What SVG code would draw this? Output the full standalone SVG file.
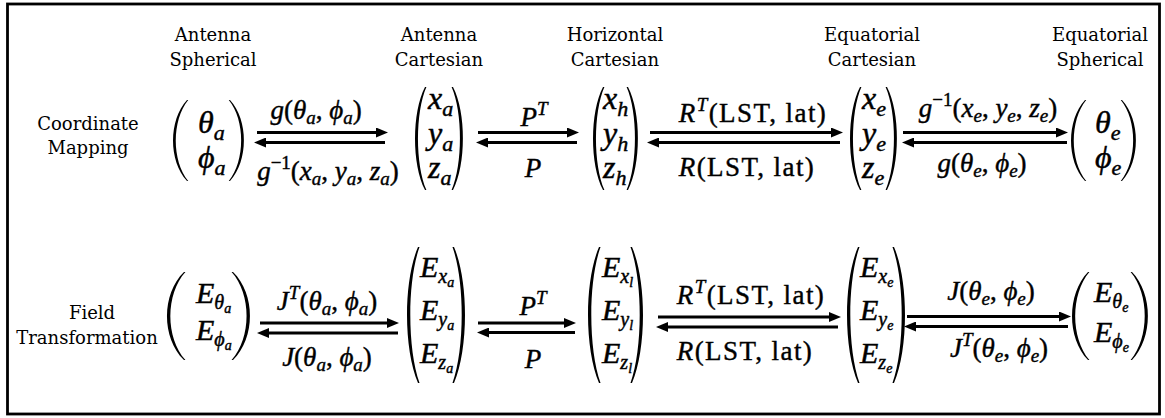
<svg xmlns="http://www.w3.org/2000/svg" width="1165" height="418" viewBox="0 0 1165 418">
<style>
.t{font-family:"DejaVu Serif",serif;font-size:18px;fill:#000;text-anchor:middle}
.m{font-family:"Liberation Serif","Times New Roman",serif;font-style:italic;font-size:32px;fill:#000;stroke:#000;stroke-width:0.45}
.me{font-family:"Liberation Serif","Times New Roman",serif;font-style:italic;font-size:30px;fill:#000;stroke:#000;stroke-width:0.45}
.l{font-family:"Liberation Serif","Times New Roman",serif;font-style:italic;font-size:27px;fill:#000;stroke:#000;stroke-width:0.4;text-anchor:middle}
.lst{letter-spacing:1.4px}
.u{font-style:normal}
.s{font-size:22px}
.s2{font-size:20px}
.ss{font-size:14px}
.ls{font-size:19px}
.arr{stroke:#000;stroke-width:2.8;fill:none}
.p{fill:#000}
</style>
<defs>
<marker id="ah" viewBox="0 0 12 10" refX="5" refY="5" markerWidth="12" markerHeight="10" markerUnits="userSpaceOnUse" orient="auto"><path d="M0,0 L12,5 L0,10 z" fill="#000"/></marker>
<path id="pn" class="p" d="M10,0 C-3.33,25 -3.33,75 10,100 L11.4,100 C0.2,75 0.2,25 11.4,0 Z"/>
<path id="pw" class="p" d="M16,0 C-5.33,25 -5.33,75 16,100 L17.4,100 C-1.5,75 -1.5,25 17.4,0 Z"/>
</defs>
<rect x="7.5" y="4" width="1152" height="410" fill="#fff" stroke="#000" stroke-width="2.8"/>

<g id="row-coordinate-mapping"><text class="t" x="88" y="130">Coordinate</text><text class="t" x="88" y="154">Mapping</text></g>
<g id="row-field-transformation"><text class="t" x="92" y="319">Field</text><text class="t" x="87" y="344">Transformation</text></g>

<g id="antenna-spherical">
<text class="t" x="213" y="41">Antenna</text><text class="t" x="213" y="66">Spherical</text>
<use href="#pw" transform="translate(173,100) scale(0.875,0.81)"/>
<use href="#pw" transform="translate(244,100) scale(-0.875,0.81)"/>
<text class="m" x="198" y="133">θ<tspan class="s" dy="7">a</tspan></text>
<text class="m" x="198" y="168">ϕ<tspan class="s" dy="7">a</tspan></text>
</g>
<g id="antenna-cartesian">
<text class="t" x="439" y="41">Antenna</text><text class="t" x="439" y="66">Cartesian</text>
<use href="#pn" transform="translate(415,87) scale(1,1.03)"/>
<use href="#pn" transform="translate(463,87) scale(-1,1.03)"/>
<text class="m" x="428" y="109">x<tspan class="s" dy="7">a</tspan></text>
<text class="m" x="428" y="144">y<tspan class="s" dy="7">a</tspan></text>
<text class="m" x="428" y="178">z<tspan class="s" dy="7">a</tspan></text>
</g>
<g id="horizontal-cartesian">
<text class="t" x="615" y="41">Horizontal</text><text class="t" x="615" y="66">Cartesian</text>
<use href="#pn" transform="translate(593,87) scale(1,1.03)"/>
<use href="#pn" transform="translate(638,87) scale(-1,1.03)"/>
<text class="m" x="603" y="109">x<tspan class="s" dy="7">h</tspan></text>
<text class="m" x="603" y="144">y<tspan class="s" dy="7">h</tspan></text>
<text class="m" x="603" y="178">z<tspan class="s" dy="7">h</tspan></text>
</g>
<g id="equatorial-cartesian">
<text class="t" x="872" y="41">Equatorial</text><text class="t" x="872" y="66">Cartesian</text>
<use href="#pn" transform="translate(850,87) scale(1,1.03)"/>
<use href="#pn" transform="translate(897,87) scale(-1,1.03)"/>
<text class="m" x="862" y="109">x<tspan class="s" dy="7">e</tspan></text>
<text class="m" x="862" y="144">y<tspan class="s" dy="7">e</tspan></text>
<text class="m" x="862" y="178">z<tspan class="s" dy="7">e</tspan></text>
</g>
<g id="equatorial-spherical">
<text class="t" x="1100" y="41">Equatorial</text><text class="t" x="1100" y="66">Spherical</text>
<use href="#pw" transform="translate(1071,100) scale(0.875,0.81)"/>
<use href="#pw" transform="translate(1136,100) scale(-0.875,0.81)"/>
<text class="m" x="1095" y="133">θ<tspan class="s" dy="7">e</tspan></text>
<text class="m" x="1095" y="168">ϕ<tspan class="s" dy="7">e</tspan></text>
</g>

<g id="field-antenna-spherical">
<use href="#pw" transform="translate(167,272) scale(1.06,0.88)"/>
<use href="#pw" transform="translate(250,272) scale(-1.06,0.88)"/>
<text class="me" x="196" y="303">E<tspan class="s2" dy="6">θ</tspan><tspan class="ss" dy="4">a</tspan></text>
<text class="me" x="196" y="340">E<tspan class="s2" dy="6">ϕ</tspan><tspan class="ss" dy="4">a</tspan></text>
</g>
<g id="field-antenna-cartesian">
<use href="#pn" transform="translate(407,247) scale(1.1,1.36)"/>
<use href="#pn" transform="translate(465,247) scale(-1.1,1.36)"/>
<text class="me" x="420" y="277">E<tspan class="s2" dy="6">x</tspan><tspan class="ss" dy="4">a</tspan></text>
<text class="me" x="420" y="320">E<tspan class="s2" dy="6">y</tspan><tspan class="ss" dy="4">a</tspan></text>
<text class="me" x="420" y="363">E<tspan class="s2" dy="6">z</tspan><tspan class="ss" dy="4">a</tspan></text>
</g>
<g id="field-horizontal-cartesian">
<use href="#pn" transform="translate(588,247) scale(1.1,1.36)"/>
<use href="#pn" transform="translate(643,247) scale(-1.1,1.36)"/>
<text class="me" x="602" y="277">E<tspan class="s2" dy="6">x</tspan><tspan class="ss" dy="4">l</tspan></text>
<text class="me" x="602" y="320">E<tspan class="s2" dy="6">y</tspan><tspan class="ss" dy="4">l</tspan></text>
<text class="me" x="602" y="363">E<tspan class="s2" dy="6">z</tspan><tspan class="ss" dy="4">l</tspan></text>
</g>
<g id="field-equatorial-cartesian">
<use href="#pn" transform="translate(847,247) scale(1.1,1.36)"/>
<use href="#pn" transform="translate(905,247) scale(-1.1,1.36)"/>
<text class="me" x="860" y="277">E<tspan class="s2" dy="6">x</tspan><tspan class="ss" dy="4">e</tspan></text>
<text class="me" x="860" y="320">E<tspan class="s2" dy="6">y</tspan><tspan class="ss" dy="4">e</tspan></text>
<text class="me" x="860" y="363">E<tspan class="s2" dy="6">z</tspan><tspan class="ss" dy="4">e</tspan></text>
</g>
<g id="field-equatorial-spherical">
<use href="#pw" transform="translate(1072,272) scale(1.0,0.88)"/>
<use href="#pw" transform="translate(1148,272) scale(-1.0,0.88)"/>
<text class="me" x="1094" y="302">E<tspan class="s2" dy="6">θ</tspan><tspan class="ss" dy="4">e</tspan></text>
<text class="me" x="1094" y="342">E<tspan class="s2" dy="6">ϕ</tspan><tspan class="ss" dy="4">e</tspan></text>
</g>

<g id="connectors">
<g class="arr">
<line x1="257" y1="132.5" x2="381" y2="132.5" marker-end="url(#ah)"/>
<line x1="385" y1="142.5" x2="261" y2="142.5" marker-end="url(#ah)"/>
<line x1="478" y1="132.5" x2="572" y2="132.5" marker-end="url(#ah)"/>
<line x1="577" y1="142.5" x2="483" y2="142.5" marker-end="url(#ah)"/>
<line x1="650" y1="132.5" x2="836" y2="132.5" marker-end="url(#ah)"/>
<line x1="840" y1="142.5" x2="654" y2="142.5" marker-end="url(#ah)"/>
<line x1="903" y1="132.5" x2="1061" y2="132.5" marker-end="url(#ah)"/>
<line x1="1067" y1="142.5" x2="909" y2="142.5" marker-end="url(#ah)"/>
<line x1="260" y1="323" x2="392" y2="323" marker-end="url(#ah)"/>
<line x1="398" y1="333" x2="264" y2="333" marker-end="url(#ah)"/>
<line x1="478" y1="323" x2="569" y2="323" marker-end="url(#ah)"/>
<line x1="575" y1="332.5" x2="484" y2="332.5" marker-end="url(#ah)"/>
<line x1="658" y1="317" x2="834" y2="317" marker-end="url(#ah)"/>
<line x1="838" y1="327" x2="663" y2="327" marker-end="url(#ah)"/>
<line x1="907" y1="316.5" x2="1064" y2="316.5" marker-end="url(#ah)"/>
<line x1="1068" y1="326.5" x2="911" y2="326.5" marker-end="url(#ah)"/>
</g>
<text class="l" x="316" y="119">g<tspan class="u">(</tspan>θ<tspan class="ls" dy="5">a</tspan><tspan class="u" dy="-5">, </tspan>ϕ<tspan class="ls" dy="5">a</tspan><tspan class="u" dy="-5">)</tspan></text>
<text class="l" x="328" y="180">g<tspan class="ls u" dy="-11">−1</tspan><tspan class="u" dy="11">(</tspan>x<tspan class="ls" dy="5">a</tspan><tspan class="u" dy="-5">, </tspan>y<tspan class="ls" dy="5">a</tspan><tspan class="u" dy="-5">, </tspan>z<tspan class="ls" dy="5">a</tspan><tspan class="u" dy="-5">)</tspan></text>
<text class="l" x="534" y="126">P<tspan class="ls" dy="-11">T</tspan></text>
<text class="l" x="533" y="177">P</text>
<text class="l lst" x="753" y="122">R<tspan class="ls" dy="-11">T</tspan><tspan class="u" dy="11">(LST, lat)</tspan></text>
<text class="l lst" x="747" y="176">R<tspan class="u">(LST, lat)</tspan></text>
<text class="l" x="988" y="117">g<tspan class="ls u" dy="-11">−1</tspan><tspan class="u" dy="11">(</tspan>x<tspan class="ls" dy="5">e</tspan><tspan class="u" dy="-5">, </tspan>y<tspan class="ls" dy="5">e</tspan><tspan class="u" dy="-5">, </tspan>z<tspan class="ls" dy="5">e</tspan><tspan class="u" dy="-5">)</tspan></text>
<text class="l" x="982" y="172">g<tspan class="u">(</tspan>θ<tspan class="ls" dy="5">e</tspan><tspan class="u" dy="-5">, </tspan>ϕ<tspan class="ls" dy="5">e</tspan><tspan class="u" dy="-5">)</tspan></text>

<text class="l" x="327" y="310">J<tspan class="ls" dy="-11">T</tspan><tspan class="u" dy="11">(</tspan>θ<tspan class="ls" dy="5">a</tspan><tspan class="u" dy="-5">, </tspan>ϕ<tspan class="ls" dy="5">a</tspan><tspan class="u" dy="-5">)</tspan></text>
<text class="l" x="327" y="366">J<tspan class="u">(</tspan>θ<tspan class="ls" dy="5">a</tspan><tspan class="u" dy="-5">, </tspan>ϕ<tspan class="ls" dy="5">a</tspan><tspan class="u" dy="-5">)</tspan></text>
<text class="l" x="533" y="315">P<tspan class="ls" dy="-11">T</tspan></text>
<text class="l" x="533" y="368">P</text>
<text class="l lst" x="751" y="304">R<tspan class="ls" dy="-11">T</tspan><tspan class="u" dy="11">(LST, lat)</tspan></text>
<text class="l lst" x="745" y="360">R<tspan class="u">(LST, lat)</tspan></text>
<text class="l" x="991" y="300">J<tspan class="u">(</tspan>θ<tspan class="ls" dy="5">e</tspan><tspan class="u" dy="-5">, </tspan>ϕ<tspan class="ls" dy="5">e</tspan><tspan class="u" dy="-5">)</tspan></text>
<text class="l" x="999" y="357">J<tspan class="ls" dy="-11">T</tspan><tspan class="u" dy="11">(</tspan>θ<tspan class="ls" dy="5">e</tspan><tspan class="u" dy="-5">, </tspan>ϕ<tspan class="ls" dy="5">e</tspan><tspan class="u" dy="-5">)</tspan></text>
</g>
</svg>
